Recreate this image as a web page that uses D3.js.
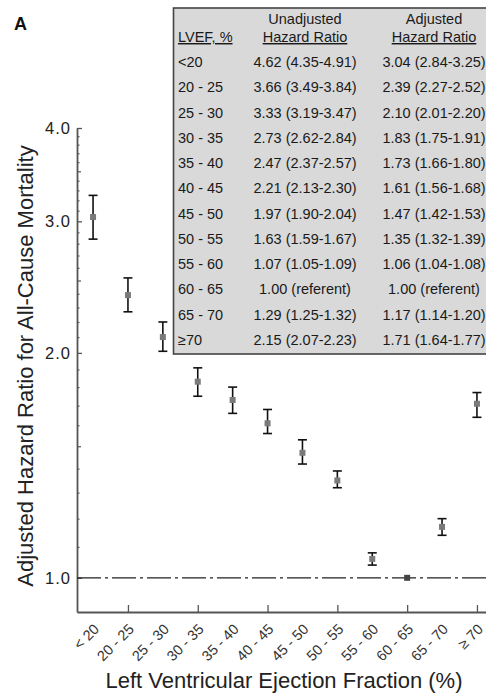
<!DOCTYPE html>
<html>
<head>
<meta charset="utf-8">
<script src="https://cdn.jsdelivr.net/npm/d3@7"></script>
<style>
  body { margin: 0; background: #fff; }
  svg { display: block; font-family: "Liberation Sans", Arial, sans-serif; }
</style>
</head>
<body>
<svg id="chart" width="486" height="695"></svg>
<script>
// categories on the x axis and in the table
const categories = ['< 20', '20 - 25', '25 - 30', '30 - 35', '35 - 40', '40 - 45',
    '45 - 50', '50 - 55', '55 - 60', '60 - 65', '65 - 70', '\u2265 70'];
const tableLabels = ['<20', '20 - 25', '25 - 30', '30 - 35', '35 - 40', '40 - 45',
    '45 - 50', '50 - 55', '55 - 60', '60 - 65', '65 - 70', '\u226570'];

// adjusted hazard ratios (plotted) with 95% CI
const adjHR = [3.04, 2.39, 2.10, 1.83, 1.73, 1.61, 1.47, 1.35, 1.06, 1.00, 1.17, 1.71];
const adjLow = [2.84, 2.27, 2.01, 1.75, 1.66, 1.56, 1.42, 1.32, 1.04, null, 1.14, 1.64];
const adjHigh = [3.25, 2.52, 2.20, 1.91, 1.80, 1.68, 1.53, 1.39, 1.08, null, 1.20, 1.77];

// unadjusted hazard ratios (table only)
const unHR = [4.62, 3.66, 3.33, 2.73, 2.47, 2.21, 1.97, 1.63, 1.07, 1.00, 1.29, 2.15];
const unLow = [4.35, 3.49, 3.19, 2.62, 2.37, 2.13, 1.90, 1.59, 1.05, null, 1.25, 2.07];
const unHigh = [4.91, 3.84, 3.47, 2.84, 2.57, 2.30, 2.04, 1.67, 1.09, null, 1.32, 2.23];

// y axis ticks
const majorTicks = [1, 2, 3, 4];
const mediumTicks = [1.5, 2.5, 3.5];
const minorTicks = [1.1, 1.2, 1.3, 1.4, 1.6, 1.7, 1.8, 1.9,
    2.1, 2.2, 2.3, 2.4, 2.6, 2.7, 2.8, 2.9,
    3.1, 3.2, 3.3, 3.4, 3.6, 3.7, 3.8, 3.9];

const svg = d3.select('#chart');

const rows = categories.map((c, i) => ({
    cat: c, hr: adjHR[i], lo: adjLow[i], hi: adjHigh[i]
}));

const x = d3.scalePoint()
    .domain(categories)
    .range([77, 493])
    .padding(0.46);

const y = d3.scaleLog()
    .domain([0.9, 4])
    .range([612, 128]);

// y axis
const yAxis = svg.append('g')
    .attr('transform', 'translate(77,0)')
    .call(d3.axisLeft(y).tickValues(majorTicks).tickFormat(d3.format('.1f'))
        .tickSizeInner(-5).tickSizeOuter(0).tickPadding(6));
yAxis.select('.domain').attr('stroke', '#555').attr('stroke-width', 1.8);
yAxis.selectAll('.tick line').attr('stroke', '#555').attr('stroke-width', 1.3);
yAxis.selectAll('.tick text')
    .attr('font-size', 16.5)
    .attr('letter-spacing', 1)
    .attr('fill', '#222');

svg.append('g')
    .attr('transform', 'translate(77,0)')
    .call(d3.axisLeft(y).tickValues(mediumTicks).tickFormat('').tickSize(-4))
    .call(g => g.select('.domain').remove())
    .selectAll('.tick line').attr('stroke', '#555').attr('stroke-width', 1.2);

svg.append('g')
    .attr('transform', 'translate(77,0)')
    .call(d3.axisLeft(y).tickValues(minorTicks).tickFormat('').tickSize(-2.5))
    .call(g => g.select('.domain').remove())
    .selectAll('.tick line').attr('stroke', '#555').attr('stroke-width', 1.2);

// x axis, ticks point inward at every other category
const xAxis = svg.append('g')
    .attr('transform', 'translate(0,612)')
    .call(d3.axisBottom(x).tickValues(categories.filter((d, i) => i % 2 === 1))
        .tickFormat('').tickSizeInner(-7).tickSizeOuter(0));
xAxis.select('.domain').attr('stroke', '#555').attr('stroke-width', 1.8);
xAxis.selectAll('.tick line').attr('stroke', '#555').attr('stroke-width', 1.3);

svg.append('g')
    .selectAll('text')
    .data(categories)
    .enter()
    .append('text')
    .attr('transform', d => `translate(${x(d) + 7},${630}) rotate(-45)`)
    .attr('text-anchor', 'end')
    .attr('font-size', 14.5)
    .attr('fill', '#333')
    .text(d => d);

// reference line at HR = 1
svg.append('line')
    .attr('x1', 77)
    .attr('x2', 486)
    .attr('y1', y(1))
    .attr('y2', y(1))
    .attr('stroke', '#222')
    .attr('stroke-width', 1.3)
    .attr('stroke-dasharray', '24,4,3,4');

// error bars
const bars = svg.append('g')
    .selectAll('g')
    .data(rows.filter(d => d.lo !== null))
    .enter()
    .append('g')
    .attr('stroke', '#111')
    .attr('stroke-width', 1.6);

bars.append('line')
    .attr('x1', d => x(d.cat)).attr('x2', d => x(d.cat))
    .attr('y1', d => y(d.lo)).attr('y2', d => y(d.hi));
bars.append('line')
    .attr('x1', d => x(d.cat) - 4.5).attr('x2', d => x(d.cat) + 4.5)
    .attr('y1', d => y(d.lo)).attr('y2', d => y(d.lo));
bars.append('line')
    .attr('x1', d => x(d.cat) - 4.5).attr('x2', d => x(d.cat) + 4.5)
    .attr('y1', d => y(d.hi)).attr('y2', d => y(d.hi));

// point estimates
svg.append('g')
    .selectAll('rect')
    .data(rows)
    .enter()
    .append('rect')
    .attr('x', d => x(d.cat) - 3)
    .attr('y', d => y(d.hr) - 3)
    .attr('width', 6)
    .attr('height', 6)
    .attr('fill', d => d.lo === null ? '#444' : '#7a7a7a');

// axis titles
svg.append('text')
    .attr('transform', 'translate(33,366) rotate(-90)')
    .attr('text-anchor', 'middle')
    .attr('font-size', 22)
    .attr('fill', '#222')
    .text('Adjusted Hazard Ratio for All-Cause Mortality');

svg.append('text')
    .attr('x', 284)
    .attr('y', 688)
    .attr('text-anchor', 'middle')
    .attr('font-size', 22)
    .attr('fill', '#222')
    .text('Left Ventricular Ejection Fraction (%)');

// panel letter
svg.append('text')
    .attr('x', 14)
    .attr('y', 30)
    .attr('font-size', 18)
    .attr('font-weight', 'bold')
    .attr('fill', '#111')
    .text('A');

// table inset
const table = svg.append('g');
table.append('rect')
    .attr('x', 173.5)
    .attr('y', 8)
    .attr('width', 330)
    .attr('height', 346)
    .attr('fill', '#d9d9d9')
    .attr('stroke', '#444')
    .attr('stroke-width', 1.6);

const fmt = d3.format('.2f');
const cell = (v, lo, hi) => lo === null ? `${fmt(v)} (referent)` : `${fmt(v)} (${fmt(lo)}-${fmt(hi)})`;

const headers = [
    { x: 178, anchor: 'start', lines: ['', 'LVEF, %'] },
    { x: 305, anchor: 'middle', lines: ['Unadjusted', 'Hazard Ratio'] },
    { x: 434, anchor: 'middle', lines: ['Adjusted', 'Hazard Ratio'] }
];
headers.forEach(h => {
    h.lines.forEach((t, k) => {
        table.append('text')
            .attr('x', h.x)
            .attr('y', 24 + k * 18)
            .attr('text-anchor', h.anchor)
            .attr('font-size', 14.5)
            .attr('fill', '#1a1a1a')
            .style('text-decoration', k === 1 ? 'underline' : 'none')
            .text(t);
    });
});

const rowY = d3.scaleLinear().domain([0, 11]).range([67, 345]);
const tRows = table.selectAll('.trow')
    .data(tableLabels)
    .enter()
    .append('g')
    .attr('class', 'trow')
    .attr('font-size', 14.5)
    .attr('fill', '#1a1a1a');

tRows.append('text')
    .attr('x', 178).attr('y', (d, i) => rowY(i))
    .text(d => d);
tRows.append('text')
    .attr('x', 305).attr('y', (d, i) => rowY(i))
    .attr('text-anchor', 'middle')
    .text((d, i) => cell(unHR[i], unLow[i], unHigh[i]));
tRows.append('text')
    .attr('x', 434).attr('y', (d, i) => rowY(i))
    .attr('text-anchor', 'middle')
    .text((d, i) => cell(adjHR[i], adjLow[i], adjHigh[i]));
</script>
</body>
</html>
